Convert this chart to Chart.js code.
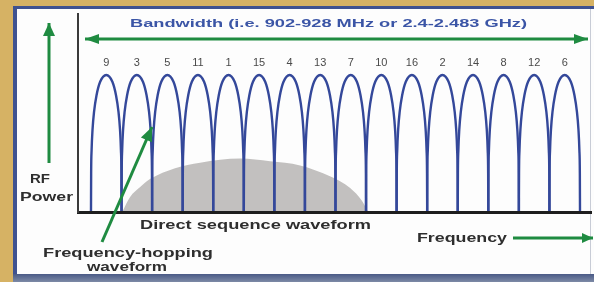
<!DOCTYPE html>
<html>
<head>
<meta charset="utf-8">
<script src="https://cdn.jsdelivr.net/npm/chart.js@4"></script>
<style>
html,body{margin:0;padding:0;background:#D6B264;}
#wrap{position:relative;width:594px;height:282px;}
canvas{display:block;}
</style>
</head>
<body>
<div id="wrap"><canvas id="c" width="594" height="282"></canvas></div>
<script>
// ---- data ----
// hop channels in order across the band
const channelLabels = ['9','3','5','11','1','15','4','13','7','10','16','2','14','8','12','6'];
// relative peak power of each hop channel
const channelPeaks = [1,1,1,1,1,1,1,1,1,1,1,1,1,1,1,1];
// one channel lobe profile (position inside a channel slot, relative power)
const lobeOffsets = [0, 0.005, 0.02, 0.05, 0.1, 0.18, 0.3, 0.5, 0.7, 0.82, 0.9, 0.95, 0.98, 0.995, 1];
const lobeHeights = [0, 0.28, 0.45, 0.60, 0.73, 0.85, 0.95, 1, 0.95, 0.85, 0.73, 0.60, 0.45, 0.28, 0];
// direct sequence waveform (frequency in channel-slot units, relative power)
const dsFreq  = [1.02, 1.28, 1.60, 1.93, 2.75, 3.57, 4.88, 5.86, 6.84, 7.82, 8.48, 8.87, 9.07];
const dsPower = [0, 0.11, 0.18, 0.24, 0.32, 0.36, 0.39, 0.37, 0.34, 0.26, 0.175, 0.08, 0];

const texts = {
  bandwidth: 'Bandwidth (i.e. 902-928 MHz or 2.4-2.483 GHz)',
  rf: 'RF', power: 'Power',
  ds: 'Direct sequence waveform',
  fh1: 'Frequency-hopping', fh2: 'waveform',
  freq: 'Frequency'
};

const BLUE = '#34489a', GREEN = '#1f8b41', GRAY = '#c2c0bf';

const datasets = channelLabels.map((lab, i) => ({
  label: lab,
  data: lobeOffsets.map((o, k) => ({x: i + o, y: channelPeaks[i] * lobeHeights[k]})),
  borderColor: BLUE, borderWidth: 2.4, pointRadius: 0,
  cubicInterpolationMode: 'monotone', fill: false, order: 1
}));
datasets.push({
  label: 'Direct sequence',
  data: dsFreq.map((f, k) => ({x: f, y: dsPower[k]})),
  borderWidth: 0, borderColor: GRAY, backgroundColor: GRAY,
  pointRadius: 0, cubicInterpolationMode: 'monotone', fill: 'origin', order: 2
});

function stretchText(ctx, text, left, right, cy, font, color) {
  ctx.save();
  ctx.font = font; ctx.fillStyle = color;
  ctx.textBaseline = 'middle'; ctx.textAlign = 'left';
  const w = ctx.measureText(text).width;
  ctx.translate(left, cy);
  ctx.scale((right - left) / w, 1);
  ctx.fillText(text, 0, 0);
  ctx.restore();
}
function arrowHead(ctx, x0, y0, x1, y1, len, half) {
  const a = Math.atan2(y1 - y0, x1 - x0);
  const bx = x1 - Math.cos(a) * len, by = y1 - Math.sin(a) * len;
  ctx.beginPath();
  ctx.moveTo(x1, y1);
  ctx.lineTo(bx + Math.sin(a) * half, by - Math.cos(a) * half);
  ctx.lineTo(bx - Math.sin(a) * half, by + Math.cos(a) * half);
  ctx.closePath(); ctx.fill();
}
function arrow(ctx, x0, y0, x1, y1, len, half, both) {
  ctx.save();
  ctx.strokeStyle = GREEN; ctx.fillStyle = GREEN; ctx.lineWidth = 3;
  ctx.beginPath(); ctx.moveTo(x0, y0); ctx.lineTo(x1, y1); ctx.stroke();
  arrowHead(ctx, x0, y0, x1, y1, len, half);
  if (both) arrowHead(ctx, x1, y1, x0, y0, len, half);
  ctx.restore();
}

const backdrop = {
  id: 'backdrop',
  beforeDraw(chart) {
    const ctx = chart.ctx;
    ctx.save();
    ctx.fillStyle = '#D6B264'; ctx.fillRect(0, 0, 594, 282);
    ctx.fillStyle = '#3f5290'; ctx.fillRect(13, 6, 581, 276);
    ctx.fillStyle = '#fdfdfd'; ctx.fillRect(17, 9, 577, 265);
    const g = ctx.createLinearGradient(0, 274, 0, 282);
    g.addColorStop(0, '#4a5a86'); g.addColorStop(1, '#7d8aa6');
    ctx.fillStyle = g; ctx.fillRect(13, 274, 581, 8);
    ctx.fillStyle = '#c8ccd6'; ctx.fillRect(590, 9, 1, 265);
    ctx.restore();
  }
};

const annotations = {
  id: 'annotations',
  afterDraw(chart) {
    const ctx = chart.ctx, xs = chart.scales.x, ys = chart.scales.y;
    // channel numbers above each lobe
    ctx.save();
    ctx.font = '11px "Liberation Sans", Arial, sans-serif';
    ctx.fillStyle = '#4a4a4a'; ctx.textAlign = 'center'; ctx.textBaseline = 'middle';
    channelLabels.forEach((lab, i) => {
      ctx.fillText(lab, xs.getPixelForValue(i + 0.5), ys.getPixelForValue(channelPeaks[i]) - 12);
    });
    ctx.restore();
    const F = '"Liberation Sans", Arial, sans-serif';
    stretchText(ctx, texts.bandwidth, 130, 527, 24, 'bold 11px ' + F, '#3b55a6');
    stretchText(ctx, texts.rf, 30, 50, 180, 'bold 12px ' + F, '#2e2e2e');
    stretchText(ctx, texts.power, 20, 73, 198, 'bold 12px ' + F, '#2e2e2e');
    stretchText(ctx, texts.ds, 140, 371, 225, 'bold 13px ' + F, '#2e2e2e');
    stretchText(ctx, texts.fh1, 43, 213, 253, 'bold 13px ' + F, '#2e2e2e');
    stretchText(ctx, texts.fh2, 87, 167, 267, 'bold 13px ' + F, '#2e2e2e');
    stretchText(ctx, texts.freq, 417, 507, 238, 'bold 13px ' + F, '#2e2e2e');
    // arrows
    arrow(ctx, 49, 163, 49, 23, 13, 6, false);
    arrow(ctx, 588, 39, 85, 39, 14, 5, true);
    arrow(ctx, 102, 242, 152, 127, 14, 6, false);
    arrow(ctx, 513, 238, 593, 238, 11, 5, false);
  }
};

new Chart(document.getElementById('c'), {
  type: 'line',
  data: {datasets},
  options: {
    responsive: false, animation: false,
    layout: {padding: {left: 78, top: 14, right: 3, bottom: 70}},
    plugins: {legend: {display: false}, tooltip: {enabled: false}},
    scales: {
      x: {
        type: 'linear', min: -0.425, max: 16.36,
        grid: {display: false, drawTicks: false},
        ticks: {display: false},
        border: {display: true, color: '#1e1e1e', width: 3, z: 1},
        afterFit(s) { s.height = 0; }
      },
      y: {
        type: 'linear', min: 0, max: 1.445,
        grid: {display: false, drawTicks: false},
        ticks: {display: false},
        border: {display: true, color: '#3a3a3a', width: 2, z: 1},
        afterFit(s) { s.width = 0; }
      }
    }
  },
  plugins: [backdrop, annotations]
});
</script>
</body>
</html>
